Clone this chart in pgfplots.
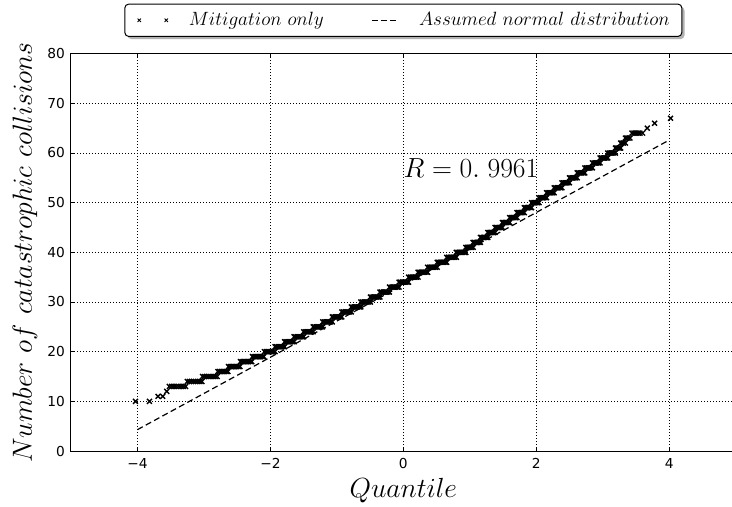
\documentclass[border=0pt]{standalone}
\usepackage{pgfplots}
\pgfplotsset{compat=1.18}
\usepackage{fontspec}
\newfontfamily\dejavu{DejaVu Sans}
\usetikzlibrary{shadows}
\makeatletter
\tikzset{no preaction/.code={\let\tikz@preactions\pgfutil@empty}}
\makeatother
\begin{document}
\begin{tikzpicture}
\path[use as bounding box] (-53.25pt,-42pt) rectangle (495.75pt,338.25pt);
\begin{axis}[
  at={(0pt,0pt)}, anchor=south west,
  width=498.5pt, height=298pt, scale only axis,
  xmin=-5, xmax=5, ymin=0, ymax=80,
  xtick={-4,-2,0,2,4}, xticklabels={−4,−2,0,2,4},
  ytick={0,10,20,30,40,50,60,70,80}, yticklabels={0,10,20,30,40,50,60,70,80},
  tick label style={font=\dejavu\fontsize{10.3}{12}\selectfont},
  xticklabel style={yshift=-1.8pt},
  yticklabel style={xshift=-1.1pt},
  tick align=inside, major tick length=3pt,
  tick style={black, line width=0.6pt},
  grid=major,
  major grid style={black, line width=0.65pt, dash pattern=on 0.65pt off 1.6pt},
  axis line style={line width=0.75pt},
  xlabel={$Quantile$},
  xlabel style={font=\fontsize{21.6}{24}\selectfont, at={(axis description cs:0.5,-0.1158)}, anchor=base},
  ylabel={$Number\ of\ catastrophic\ collisions$},
  ylabel style={font=\fontsize{22.4}{24}\selectfont, at={(axis description cs:-0.0587,0.5)}, anchor=base},
  legend columns=2,
  legend style={at={(axis description cs:0.5,1.042)}, anchor=south,
    draw=black, line width=0.75pt, rounded corners=3pt, fill=white,
    drop shadow={shadow xshift=2pt, shadow yshift=-2pt, fill=black!60},
    inner xsep=0pt, inner ysep=6.4pt,
    font=\fontsize{14.2}{16}\selectfont,
    nodes={inner sep=0pt}},
]
\addplot[only marks, mark=x, mark size=2.6pt, mark options={line width=1.05pt, black}, black,
  legend image code/.code={\path[no preaction] (-10.5pt,0pt) (36.75pt,0pt);
    \draw[no preaction, only marks, mark=x, mark size=1.8pt, mark options={line width=0.65pt, no preaction}] plot coordinates {(0pt,0pt) (20.25pt,0pt)};}]
table[row sep=\\] {
x y\\
-4.03 10\\ -3.82 10\\ -3.69 11\\ -3.62 11\\ -3.56 12\\
-3.52 13\\ -3.485 13\\ -3.45 13\\ -3.415 13\\ -3.38 13\\ -3.345 13\\ -3.31 13\\ -3.275 13\\
-3.25 14\\ -3.219 14\\ -3.187 14\\ -3.156 14\\ -3.124 14\\ -3.093 14\\ -3.061 14\\ -3.03 14\\
-3.02 15\\ -2.989 15\\ -2.957 15\\ -2.926 15\\ -2.894 15\\ -2.863 15\\ -2.831 15\\ -2.80 15\\
-2.79 16\\ -2.765 16\\ -2.74 16\\ -2.715 16\\ -2.69 16\\ -2.665 16\\ -2.64 16\\
-2.63 17\\ -2.606 17\\ -2.581 17\\ -2.557 17\\ -2.533 17\\ -2.509 17\\ -2.484 17\\ -2.46 17\\
-2.45 18\\ -2.426 18\\ -2.401 18\\ -2.377 18\\ -2.353 18\\ -2.329 18\\ -2.304 18\\ -2.28 18\\
-2.27 19\\ -2.246 19\\ -2.221 19\\ -2.197 19\\ -2.173 19\\ -2.149 19\\ -2.124 19\\ -2.10 19\\
-2.09 20\\ -2.063 20\\ -2.037 20\\ -2.01 20\\ -1.983 20\\ -1.957 20\\ -1.93 20\\
-1.930 21\\ -1.906 21\\ -1.882 21\\ -1.858 21\\ -1.834 21\\ -1.810 21\\ -1.787 21\\
-1.787 22\\ -1.763 22\\ -1.739 22\\ -1.715 22\\ -1.691 22\\ -1.667 22\\ -1.643 22\\
-1.643 23\\ -1.619 23\\ -1.595 23\\ -1.571 23\\ -1.547 23\\ -1.523 23\\ -1.500 23\\
-1.500 24\\ -1.476 24\\ -1.452 24\\ -1.428 24\\ -1.404 24\\ -1.380 24\\ -1.356 24\\
-1.356 25\\ -1.332 25\\ -1.308 25\\ -1.284 25\\ -1.260 25\\ -1.236 25\\ -1.213 25\\
-1.213 26\\ -1.189 26\\ -1.165 26\\ -1.141 26\\ -1.117 26\\ -1.093 26\\ -1.069 26\\
-1.069 27\\ -1.045 27\\ -1.021 27\\ -0.997 27\\ -0.973 27\\ -0.949 27\\ -0.926 27\\
-0.926 28\\ -0.902 28\\ -0.878 28\\ -0.854 28\\ -0.830 28\\ -0.806 28\\ -0.782 28\\
-0.782 29\\ -0.758 29\\ -0.734 29\\ -0.710 29\\ -0.686 29\\ -0.662 29\\ -0.639 29\\
-0.639 30\\ -0.615 30\\ -0.591 30\\ -0.567 30\\ -0.543 30\\ -0.519 30\\ -0.495 30\\
-0.495 31\\ -0.471 31\\ -0.447 31\\ -0.423 31\\ -0.399 31\\ -0.375 31\\ -0.352 31\\
-0.352 32\\ -0.328 32\\ -0.304 32\\ -0.280 32\\ -0.256 32\\ -0.232 32\\ -0.208 32\\
-0.208 33\\ -0.184 33\\ -0.160 33\\ -0.136 33\\ -0.112 33\\ -0.088 33\\ -0.065 33\\
-0.065 34\\ -0.041 34\\ -0.017 34\\ 0.007 34\\ 0.031 34\\ 0.055 34\\ 0.079 34\\
0.079 35\\ 0.103 35\\ 0.127 35\\ 0.151 35\\ 0.175 35\\ 0.199 35\\ 0.223 35\\
0.223 36\\ 0.247 36\\ 0.271 36\\ 0.295 36\\ 0.319 36\\ 0.343 36\\ 0.366 36\\
0.366 37\\ 0.390 37\\ 0.414 37\\ 0.438 37\\ 0.462 37\\ 0.486 37\\ 0.510 37\\
0.510 38\\ 0.534 38\\ 0.558 38\\ 0.582 38\\ 0.606 38\\ 0.630 38\\ 0.653 38\\
0.653 39\\ 0.677 39\\ 0.701 39\\ 0.725 39\\ 0.749 39\\ 0.773 39\\ 0.797 39\\
0.797 40\\ 0.821 40\\ 0.845 40\\ 0.869 40\\ 0.893 40\\ 0.917 40\\ 0.940 40\\
0.940 41\\ 0.962 41\\ 0.984 41\\ 1.006 41\\ 1.028 41\\ 1.050 41\\
1.050 42\\ 1.072 42\\ 1.094 42\\ 1.116 42\\ 1.138 42\\ 1.160 42\\
1.160 43\\ 1.182 43\\ 1.204 43\\ 1.226 43\\ 1.248 43\\ 1.270 43\\
1.270 44\\ 1.292 44\\ 1.314 44\\ 1.336 44\\ 1.358 44\\ 1.380 44\\
1.380 45\\ 1.402 45\\ 1.424 45\\ 1.446 45\\ 1.468 45\\ 1.490 45\\
1.490 46\\ 1.512 46\\ 1.534 46\\ 1.556 46\\ 1.578 46\\ 1.600 46\\
1.600 47\\ 1.622 47\\ 1.644 47\\ 1.666 47\\ 1.688 47\\ 1.710 47\\
1.710 48\\ 1.732 48\\ 1.754 48\\ 1.776 48\\ 1.798 48\\ 1.820 48\\
1.820 49\\ 1.842 49\\ 1.864 49\\ 1.886 49\\ 1.908 49\\ 1.930 49\\
1.930 50\\ 1.952 50\\ 1.974 50\\ 1.996 50\\ 2.018 50\\ 2.040 50\\
2.040 51\\ 2.063 51\\ 2.086 51\\ 2.109 51\\ 2.132 51\\ 2.155 51\\
2.155 52\\ 2.178 52\\ 2.201 52\\ 2.224 52\\ 2.247 52\\ 2.270 52\\
2.270 53\\ 2.293 53\\ 2.316 53\\ 2.339 53\\ 2.362 53\\ 2.385 53\\
2.385 54\\ 2.408 54\\ 2.431 54\\ 2.454 54\\ 2.477 54\\ 2.500 54\\
2.500 55\\ 2.523 55\\ 2.546 55\\ 2.569 55\\ 2.592 55\\ 2.615 55\\
2.615 56\\ 2.638 56\\ 2.661 56\\ 2.684 56\\ 2.707 56\\ 2.730 56\\
2.730 57\\ 2.753 57\\ 2.776 57\\ 2.799 57\\ 2.822 57\\ 2.845 57\\
2.845 58\\ 2.868 58\\ 2.891 58\\ 2.914 58\\ 2.937 58\\ 2.960 58\\
2.960 59\\ 2.983 59\\ 3.006 59\\ 3.029 59\\ 3.052 59\\ 3.075 59\\
3.075 60\\ 3.098 60\\ 3.121 60\\ 3.144 60\\ 3.167 60\\ 3.190 60\\
3.19 61\\ 3.21 61\\ 3.23 61\\ 3.25 61\\ 3.27 61\\
3.27 62\\ 3.29 62\\ 3.31 62\\ 3.34 62\\
3.34 63\\ 3.36 63\\ 3.38 63\\ 3.41 63\\
3.44 64\\ 3.47 64\\ 3.50 64\\ 3.53 64\\ 3.56 64\\ 3.60 64\\
3.67 65\\ 3.78 66\\ 4.02 67\\
};
\addlegendentry{$Mitigation\ only$}
\addplot[black, line width=0.9pt, dash pattern=on 4.5pt off 2.6pt,
  legend image code/.code={\path[no preaction] (-35.25pt,0pt) (35.25pt,0pt);
    \draw[no preaction] (0pt,0pt) -- (18.6pt,0pt);}]
coordinates {(-4,4.3) (4,62.6)};
\addlegendentry{$Assumed\ normal\ distribution$\hspace*{9pt}}
\node[anchor=base west, font=\fontsize{21.4}{24}\selectfont, inner sep=0pt] at (axis cs:0,55) {$R=0.\;9961$};
\end{axis}
\end{tikzpicture}
\end{document}
